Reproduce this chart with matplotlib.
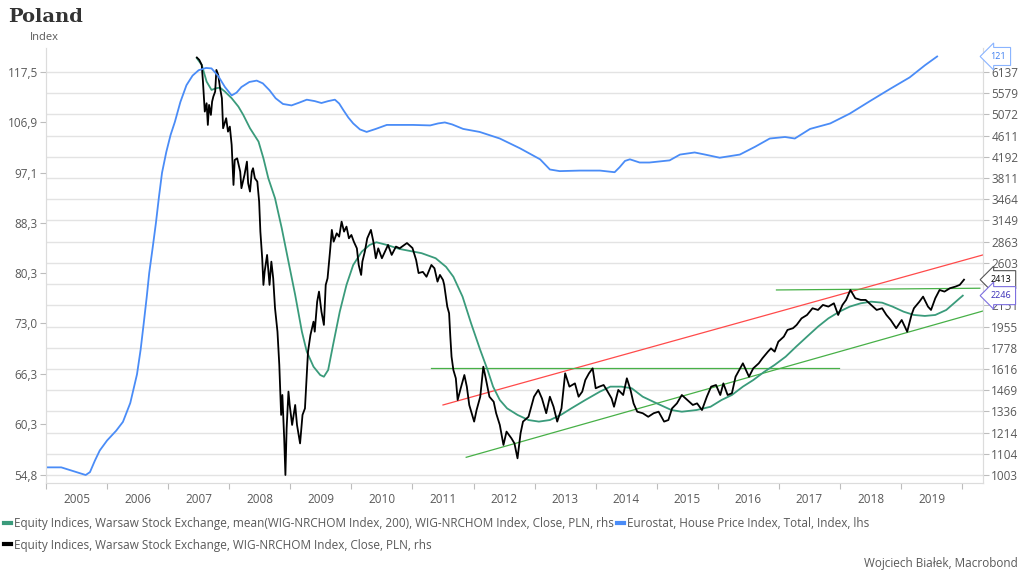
import matplotlib.pyplot as plt
import matplotlib.transforms as mtransforms
from matplotlib.ticker import FixedLocator, FixedFormatter, NullFormatter
from matplotlib.lines import Line2D

plt.rcParams['font.family'] = ['Open Sans', 'DejaVu Sans']

# Eurostat, House Price Index, Total (lhs)
hpi_t = [2005.00, 2005.25, 2005.45, 2005.65, 2005.72, 2005.80, 2005.88, 2006.00, 2006.15,
         2006.26, 2006.38, 2006.49, 2006.55, 2006.60, 2006.65, 2006.69, 2006.75, 2006.80,
         2006.85, 2006.90, 2006.97, 2007.04, 2007.11, 2007.20, 2007.30, 2007.40, 2007.50,
         2007.62, 2007.71, 2007.82, 2007.93, 2008.04, 2008.12, 2008.20, 2008.33, 2008.45,
         2008.55, 2008.66, 2008.76, 2008.88, 2009.02, 2009.15, 2009.27, 2009.40, 2009.51,
         2009.62, 2009.73, 2009.80, 2009.87, 2009.95, 2010.03, 2010.14, 2010.25, 2010.40,
         2010.58, 2011.01, 2011.29, 2011.42, 2011.53, 2011.65, 2011.83, 2012.10, 2012.43,
         2012.76, 2013.09, 2013.25, 2013.41, 2013.74, 2014.07, 2014.31, 2014.39, 2014.48,
         2014.56, 2014.72, 2014.88, 2015.21, 2015.38, 2015.62, 2015.79, 2016.03, 2016.36,
         2016.61, 2016.85, 2017.10, 2017.26, 2017.51, 2017.84, 2018.16, 2018.49, 2018.82,
         2019.14, 2019.39, 2019.59]
hpi_v = [55.6, 55.6, 55.2, 54.8, 55.1, 56.3, 57.4, 58.5, 59.6,
         60.6, 62.8, 66.3, 69.5, 73.0, 76.8, 80.3, 84.5, 88.3,
         92.8, 97.1, 101.0, 104.3, 106.9, 111.0, 114.6, 116.7, 117.9,
         118.4, 118.3, 116.6, 114.2, 112.4, 113.0, 114.2, 115.3, 115.6,
         115.0, 113.5, 111.8, 110.6, 110.3, 110.9, 111.5, 111.2, 110.8,
         111.2, 111.5, 110.7, 109.3, 107.8, 106.6, 105.4, 104.9, 105.5,
         106.3, 106.3, 106.2, 106.6, 106.8, 106.4, 105.5, 104.9, 103.6,
         101.7, 99.6, 97.7, 97.4, 97.5, 97.5, 97.2, 98.1, 99.3,
         99.6, 99.0, 99.0, 99.4, 100.5, 100.9, 100.5, 99.9, 100.5,
         102.0, 103.6, 103.9, 103.6, 105.5, 106.6, 108.6, 111.2, 113.8,
         116.3, 119.0, 121.0]

# WIG-NRCHOM Index, Close, PLN (rhs)
wig_t = [2007.47, 2007.51, 2007.55, 2007.57, 2007.60, 2007.63, 2007.65, 2007.67, 2007.70, 2007.72,
         2007.74, 2007.77, 2007.79, 2007.82, 2007.85, 2007.88, 2007.90, 2007.95, 2007.98, 2008.01,
         2008.04, 2008.07, 2008.09, 2008.13, 2008.18, 2008.20, 2008.25, 2008.29, 2008.31, 2008.34,
         2008.37, 2008.39, 2008.42, 2008.46, 2008.49, 2008.51, 2008.54, 2008.56, 2008.58, 2008.62,
         2008.66, 2008.69, 2008.72, 2008.75, 2008.79, 2008.82, 2008.85, 2008.87, 2008.90, 2008.92,
         2008.94, 2008.97, 2008.99, 2009.03, 2009.08, 2009.11, 2009.16, 2009.20, 2009.24, 2009.27,
         2009.29, 2009.33, 2009.38, 2009.40, 2009.44, 2009.47, 2009.51, 2009.55, 2009.58, 2009.61,
         2009.65, 2009.68, 2009.71, 2009.76, 2009.80, 2009.84, 2009.88, 2009.92, 2009.96, 2010.00,
         2010.04, 2010.09, 2010.12, 2010.16, 2010.18, 2010.22, 2010.26, 2010.32, 2010.36, 2010.40,
         2010.44, 2010.50, 2010.55, 2010.60, 2010.66, 2010.73, 2010.79, 2010.91, 2011.00, 2011.06,
         2011.10, 2011.17, 2011.23, 2011.31, 2011.36, 2011.41, 2011.45, 2011.50, 2011.52, 2011.57,
         2011.60, 2011.62, 2011.64, 2011.67, 2011.71, 2011.74, 2011.79, 2011.85, 2011.89, 2011.93,
         2012.01, 2012.05, 2012.11, 2012.16, 2012.20, 2012.26, 2012.33, 2012.37, 2012.43, 2012.49,
         2012.54, 2012.62, 2012.67, 2012.72, 2012.77, 2012.81, 2012.90, 2012.99, 2013.06, 2013.12,
         2013.19, 2013.25, 2013.31, 2013.37, 2013.44, 2013.50, 2013.57, 2013.66, 2013.72, 2013.78,
         2013.83, 2013.89, 2013.95, 2014.00, 2014.06, 2014.13, 2014.18, 2014.26, 2014.30, 2014.37,
         2014.45, 2014.51, 2014.57, 2014.62, 2014.68, 2014.77, 2014.86, 2014.95, 2015.03, 2015.12,
         2015.19, 2015.25, 2015.33, 2015.41, 2015.50, 2015.59, 2015.66, 2015.74, 2015.82, 2015.89,
         2015.97, 2016.04, 2016.09, 2016.16, 2016.23, 2016.29, 2016.35, 2016.41, 2016.46, 2016.51,
         2016.58, 2016.67, 2016.73, 2016.82, 2016.87, 2016.93, 2016.99, 2017.08, 2017.14, 2017.23,
         2017.29, 2017.37, 2017.46, 2017.55, 2017.64, 2017.72, 2017.81, 2017.90, 2017.97, 2018.04,
         2018.10, 2018.17, 2018.25, 2018.34, 2018.42, 2018.51, 2018.60, 2018.69, 2018.76, 2018.83,
         2018.92, 2019.01, 2019.10, 2019.17, 2019.21, 2019.30, 2019.36, 2019.44, 2019.49, 2019.56,
         2019.63, 2019.71, 2019.80, 2019.89, 2019.96, 2020.03]
wig_v = [6550, 6479, 6335, 5877, 5136, 5333, 4838, 5293, 5060, 5372,
         5494, 5619, 6194, 6057, 5706, 5455, 4766, 4986, 4694, 4801,
         4422, 3694, 4133, 4164, 3922, 3640, 3864, 4102, 3722, 3585,
         3922, 3982, 3807, 3750, 3427, 2995, 2657, 2357, 2502, 2697,
         2357, 2617, 2428, 2122, 1910, 1645, 1314, 1437, 1183, 1003,
         1237, 1459, 1374, 1256, 1374, 1256, 1156, 1314, 1353, 1572,
         1746, 1882, 1998, 1910, 2186, 2287, 2090, 1969, 2357, 2428,
         2737, 3018, 2863, 2972, 2928, 3132, 2995, 3063, 2906, 2950,
         2863, 2778, 2578, 2465, 2617, 2737, 2906, 3018, 2863, 2657,
         2778, 2657, 2737, 2821, 2697, 2800, 2778, 2845, 2782, 2637,
         2486, 2499, 2445, 2578, 2540, 2392, 2465, 2410, 2357, 2138,
         2075, 1868, 1707, 1608, 1549, 1405, 1481, 1572, 1492, 1374,
         1275, 1343, 1426, 1632, 1549, 1426, 1394, 1324, 1256, 1148,
         1219, 1183, 1156, 1081, 1210, 1275, 1303, 1426, 1470, 1415,
         1324, 1426, 1363, 1275, 1353, 1584, 1492, 1514, 1426, 1459,
         1537, 1584, 1620, 1481, 1492, 1503, 1470, 1415, 1363, 1470,
         1437, 1549, 1470, 1384, 1333, 1324, 1303, 1324, 1333, 1275,
         1284, 1353, 1384, 1437, 1405, 1374, 1384, 1343, 1426, 1492,
         1503, 1437, 1514, 1437, 1448, 1560, 1608, 1657, 1608, 1560,
         1620, 1657, 1695, 1746, 1772, 1746, 1826, 1868, 1925, 1940,
         1969, 2028, 2059, 2122, 2106, 2154, 2138, 2170, 2059, 2154,
         2203, 2304, 2220, 2203, 2203, 2154, 2106, 2122, 2059, 2013,
         1940, 2013, 1910, 2059, 2122, 2186, 2236, 2138, 2106, 2220,
         2304, 2287, 2322, 2339, 2357, 2413]

# mean(WIG-NRCHOM Index, 200) (rhs)
ma_t = [2007.47, 2007.55, 2007.63, 2007.71, 2007.79, 2007.85, 2007.93, 2008.04, 2008.15, 2008.23,
        2008.34, 2008.48, 2008.56, 2008.64, 2008.75, 2008.86, 2008.97, 2009.08, 2009.19, 2009.27,
        2009.38, 2009.49, 2009.55, 2009.62, 2009.70, 2009.81, 2009.92, 2010.03, 2010.17, 2010.30,
        2010.41, 2010.58, 2010.79, 2011.15, 2011.38, 2011.55, 2011.67, 2011.82, 2011.96, 2012.11,
        2012.23, 2012.32, 2012.43, 2012.55, 2012.72, 2012.90, 2013.07, 2013.25, 2013.43, 2013.60,
        2013.83, 2014.07, 2014.24, 2014.42, 2014.59, 2014.77, 2015.00, 2015.24, 2015.41, 2015.65,
        2015.88, 2016.06, 2016.23, 2016.41, 2016.58, 2016.76, 2016.93, 2017.11, 2017.28, 2017.46,
        2017.64, 2017.81, 2017.99, 2018.16, 2018.34, 2018.51, 2018.69, 2018.86, 2019.04, 2019.21,
        2019.39, 2019.56, 2019.74, 2019.96, 2020.01]
ma_v = [6530, 6335, 5877, 5662, 5706, 5721, 5619, 5455, 5253, 5060,
        4766, 4488, 4164, 3807, 3479, 3041, 2617, 2253, 1910, 1746,
        1632, 1572, 1560, 1608, 1799, 2090, 2357, 2578, 2737, 2821,
        2855, 2821, 2770, 2718, 2657, 2556, 2445, 2236, 1983, 1759,
        1608, 1492, 1405, 1353, 1314, 1284, 1275, 1284, 1314, 1353,
        1405, 1459, 1492, 1492, 1481, 1426, 1384, 1343, 1333, 1343,
        1363, 1405, 1437, 1492, 1537, 1595, 1645, 1707, 1785, 1868,
        1954, 2028, 2090, 2138, 2170, 2186, 2176, 2138, 2090, 2059,
        2050, 2059, 2106, 2220, 2246]

# hand-drawn trend lines (rhs)
red_t, red_v = [2011.50, 2020.34], [1374, 2697]
sup_t, sup_v = [2011.88, 2020.34], [1086, 2096]
low_t, low_v = [2011.31, 2017.99], [1620, 1620]
top_t, top_v = [2016.96, 2020.29], [2304, 2322]

left_ticks = [54.8, 60.3, 66.3, 73.0, 80.3, 88.3, 97.1, 106.9, 117.5]
left_labels = ['54,8', '60,3', '66,3', '73,0', '80,3', '88,3', '97,1', '106,9', '117,5']
right_ticks = [1003, 1104, 1214, 1336, 1469, 1616, 1778, 1955, 2151, 2366,
               2603, 2863, 3149, 3464, 3811, 4192, 4611, 5072, 5579, 6137]
# the 2366 label sits behind the value callouts in the original
right_labels = ['' if v == 2366 else str(v) for v in right_ticks]
years = list(range(2005, 2021))

c_ma = '#3a9b7b'
c_blue = '#4a8cf7'
c_grid = '#e3e3e3'
c_txt = '#595959'

fig = plt.figure(figsize=(10.24, 5.81), dpi=100)
ax = fig.add_axes([0.0449, 0.1687, 0.9150, 0.7487])
ax2 = ax.twinx()
ax.set_zorder(ax2.get_zorder() + 1)
ax.patch.set_visible(False)

ax2.set_yscale('log')
ax2.set_ylim(967.6, 6836)
ax2.yaxis.set_major_locator(FixedLocator(right_ticks))
ax2.yaxis.set_major_formatter(FixedFormatter(right_labels))
ax2.yaxis.set_minor_formatter(NullFormatter())
ax2.minorticks_off()
ax2.grid(axis='y', color=c_grid, lw=1)

ax2.plot(red_t, red_v, color='#ff4a4a', lw=0.9)
ax2.plot(sup_t, sup_v, color='#47b047', lw=0.9)
ax2.plot(low_t, low_v, color='#47b047', lw=0.9)
ax2.plot(top_t, top_v, color='#47b047', lw=0.9)
ax2.plot(ma_t, ma_v, color=c_ma, lw=1.3)
ax2.plot(wig_t, wig_v, color='black', lw=1.3)

ax.set_yscale('log')
ax.set_ylim(53.98, 122.96)
ax.yaxis.set_major_locator(FixedLocator(left_ticks))
ax.yaxis.set_major_formatter(FixedFormatter(left_labels))
ax.minorticks_off()
ax.plot(hpi_t, hpi_v, color=c_blue, lw=1.3)

ax.set_xlim(2005.0, 2020.34)
ax.xaxis.set_major_locator(FixedLocator(years))
ax.xaxis.set_major_formatter(NullFormatter())
ax.xaxis.set_minor_locator(FixedLocator([y + 0.5 for y in years[:-1]]))
ax.xaxis.set_minor_formatter(FixedFormatter([str(y) for y in years[:-1]]))
ax.tick_params(axis='x', which='major', length=4, color='#bdbdbd', width=0.8)
ax.tick_params(axis='x', which='minor', length=0, pad=7, labelsize=8.5, labelcolor=c_txt)

for a in (ax, ax2):
    a.tick_params(axis='y', length=4, color='#bdbdbd', width=0.8, labelsize=8.5,
                  labelcolor=c_txt, pad=2)
    for s in a.spines.values():
        s.set_color('#dcdcdc')
        s.set_linewidth(0.8)
    a.spines['top'].set_visible(False)

# value callouts at the right edge
tr_l = mtransforms.blended_transform_factory(ax.transAxes, ax.transData)
tr_r = mtransforms.blended_transform_factory(ax.transAxes, ax2.transData)
box = dict(boxstyle='larrow,pad=0.5', fc='white', lw=0.8)
ax.text(1.008, hpi_v[-1], '121', transform=tr_l, ha='left', va='center', fontsize=6.5,
        color='#3d7ef0', clip_on=False, zorder=10, bbox=dict(box, ec='#8ab4ff'))
ax.text(1.008, wig_v[-1], '2413', transform=tr_r, ha='left', va='center', fontsize=6.5,
        color='black', clip_on=False, zorder=10, bbox=dict(box, ec='#555555'))
ax.text(1.008, ma_v[-1], '2246', transform=tr_r, ha='left', va='center', fontsize=6.5,
        color='#3b30b8', clip_on=False, zorder=10, bbox=dict(box, ec='#7d6fe0'))

fig.text(8 / 1024, 1 - 17 / 581, 'Poland', family='DejaVu Serif', fontweight='bold',
         fontsize=14, color='#333333', va='center')
fig.text(30 / 1024, 1 - 38 / 581, 'Index', fontsize=8, color=c_txt, va='center')

handles = [Line2D([], [], color=c_ma, lw=3),
           Line2D([], [], color='black', lw=3),
           Line2D([], [], color=c_blue, lw=3)]
labels = ['Equity Indices, Warsaw Stock Exchange, mean(WIG-NRCHOM Index, 200), WIG-NRCHOM Index, Close, PLN, rhs',
          'Equity Indices, Warsaw Stock Exchange, WIG-NRCHOM Index, Close, PLN, rhs',
          'Eurostat, House Price Index, Total, Index, lhs']
leg = fig.legend(handles, labels, loc='upper left', bbox_to_anchor=(0.002, 1 - 515 / 581),
                 ncol=2, frameon=False, fontsize=8.5, handlelength=0.55, handletextpad=0.25,
                 columnspacing=0.3, labelspacing=0.7, borderpad=0.2, borderaxespad=0)
for t in leg.get_texts():
    t.set_color(c_txt)

fig.text(1018 / 1024, 1 - 563 / 581, 'Wojciech Białek, Macrobond', fontsize=8.5,
         color=c_txt, ha='right', va='center')

fig.savefig('out.png', dpi=100, facecolor='white')
